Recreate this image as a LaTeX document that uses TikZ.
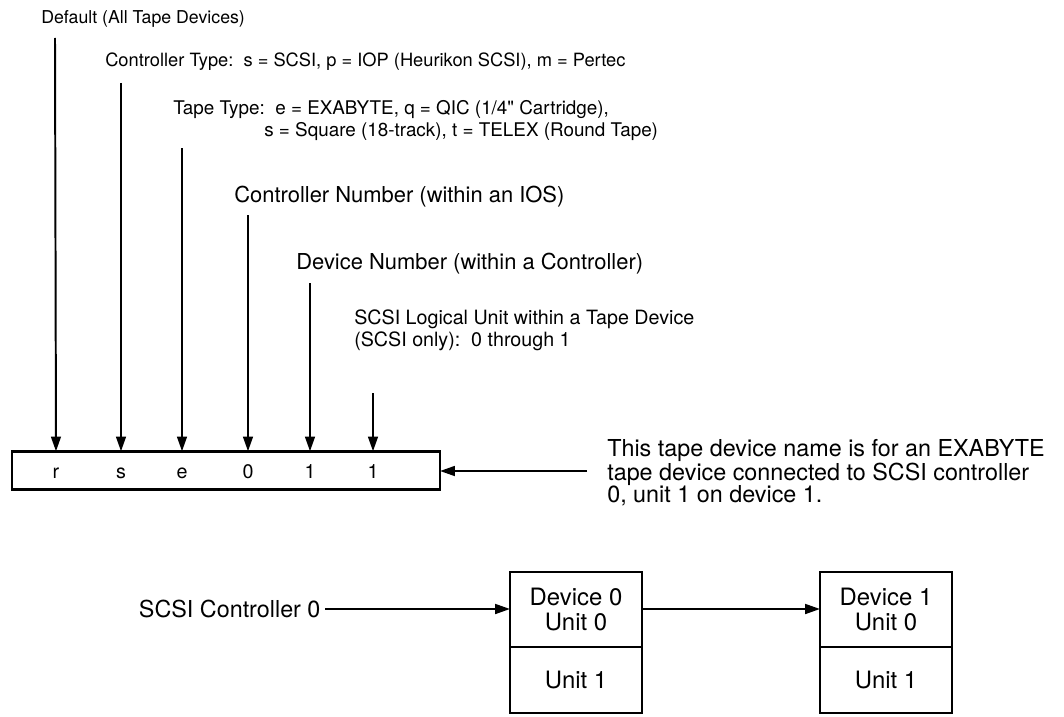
\documentclass[tikz,border=0pt]{standalone}
\usepackage{fontspec}
\setmainfont{TeX Gyre Heros}[Ligatures=TeXOff]
\usepackage{tikz}
\usetikzlibrary{arrows.meta,positioning}
\tikzset{
    tapearrow/.style={
        line width=1.4pt,
        black,
        -{Triangle[length=10.5pt, width=7pt]}
    },
    % box for the name and for the devices
    namebox/.style={
        draw,
        line width=2pt,
        inner sep=0pt,
        outer sep=0pt
    },
    toplabel/.style={
        anchor=base west,
        inner sep=0pt,
        font=\fontsize{#1}{15.6}\selectfont
    },
    toplabel/.default=13,
    bigtext/.style={
        font=\fontsize{16.6}{15.8}\selectfont
    },
    devtext/.style={
        font=\fontsize{17}{18.4}\selectfont
    }
}

\begin{document}
\begin{tikzpicture}[x=0.025cm,y=-0.025cm]
\useasboundingbox (0,0) rectangle (1064,716);

% labels above the name
\node[toplabel=12.6] (ldefault) at (41,23.5) {Default (All Tape Devices)};
\node[toplabel=13] (lctrltype) at (105,66.5) {Controller Type:\ \ s = SCSI, p = IOP (Heurikon SCSI), m = Pertec};
\node[toplabel=13.4] (ltapetype) at (173,114.5) {Tape Type:\ \ e = EXABYTE, q = QIC (1/4" Cartridge),};
\node[toplabel=13.4] (ltapetypeb) at (264,136.5) {s = Square (18-track), t = TELEX (Round Tape)};
\node[toplabel=15.6] (lctrlnum) at (234,202.5) {Controller Number (within an IOS)};
\node[toplabel=15.6] (ldevnum) at (296,269.5) {Device Number (within a Controller)};
\node[toplabel=14,anchor=north west,align=left] (llunit) at (354,310)
    {SCSI Logical Unit within a Tape Device\\(SCSI only):\ \ 0 through 1};

% the device name
\node[namebox,minimum width=10.7cm,minimum height=0.96cm] (tapename) at (226,470.5) {};
\node[toplabel=14,anchor=base] (cr) at (56,478) {r};
\node[toplabel=14,anchor=base] (cs) at (121,478) {s};
\node[toplabel=14,anchor=base] (ce) at (182,478) {e};
\node[toplabel=14,anchor=base] (cctrl) at (248,478) {0};
\node[toplabel=14,anchor=base] (cdev) at (310,478) {1};
\node[toplabel=14,anchor=base] (cunit) at (373,478) {1};

\path
(55,38) coordinate (tdefault)
(121,83) coordinate (tctrltype)
(182,148) coordinate (ttapetype)
(248,215) coordinate (tctrlnum)
(310,283) coordinate (tdevnum)
(373,393) coordinate (tlunit)
(587,471) coordinate (tnote)
;

\draw[tapearrow] (tdefault) -- (cr |- tapename.north);
\draw[tapearrow] (tctrltype) -- (cs |- tapename.north);
\draw[tapearrow] (ttapetype) -- (ce |- tapename.north);
\draw[tapearrow] (tctrlnum) -- (cctrl |- tapename.north);
\draw[tapearrow] (tdevnum) -- (cdev |- tapename.north);
\draw[tapearrow] (tlunit) -- (cunit |- tapename.north);

% note on the right
\node[bigtext,anchor=west,align=left,inner sep=0pt] (note) at (607,473)
    {This tape device name is for an EXABYTE\\tape device connected to SCSI controller\\0, unit 1 on device 1.};
\draw[tapearrow] (tnote) -- (tapename.east |- tnote);

% controller and devices
\node[namebox,devtext,minimum width=3.3cm,minimum height=1.875cm,align=center] (devzero) at (576,609.5) {Device 0\\Unit 0};
\node[namebox,devtext,minimum width=3.3cm,minimum height=1.65cm,below=0pt of devzero] (devzerob) {Unit 1};
\node[namebox,devtext,minimum width=3.3cm,minimum height=1.875cm,align=center] (devone) at (886,609.5) {Device 1\\Unit 0};
\node[namebox,devtext,minimum width=3.3cm,minimum height=1.65cm,below=0pt of devone] (devoneb) {Unit 1};

\node[bigtext,anchor=west] (ctrl) at (134,609) {SCSI Controller 0};
\draw[tapearrow] (ctrl.east) -- (devzero.west |- ctrl.east);
\draw[tapearrow] (devzero.east |- ctrl.east) -- (devone.west |- ctrl.east);

\end{tikzpicture}
\end{document}
